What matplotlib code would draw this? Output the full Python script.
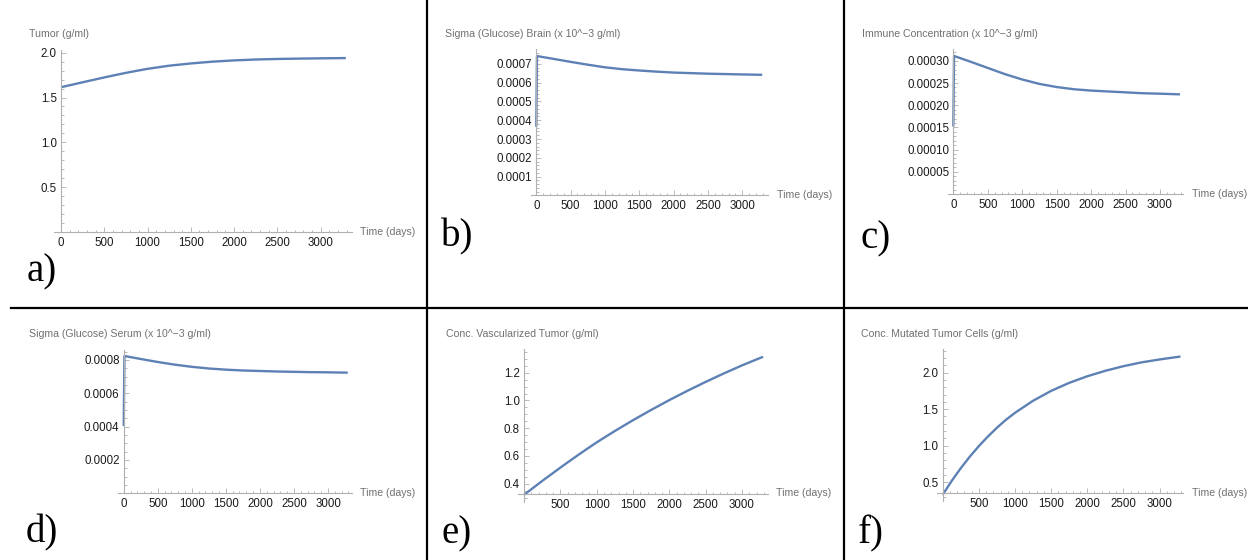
import matplotlib
matplotlib.use("Agg")
import matplotlib.pyplot as plt
from matplotlib.lines import Line2D
from matplotlib.ticker import MultipleLocator, FormatStrFormatter, FixedLocator

W, H = 1248, 560

# tiempos (dias)
t_suave = [0, 125, 250, 375, 500, 625, 750, 875, 1000, 1250, 1500, 1750, 2000, 2250, 2500, 2750, 3000, 3290]
t_salto = [0, 10, 250, 500, 750, 1000, 1250, 1500, 1750, 2000, 2250, 2500, 2750, 3000, 3290]

tumor = [1.615, 1.642, 1.67, 1.697, 1.724, 1.75, 1.775, 1.798, 1.82, 1.855, 1.88, 1.90, 1.914,
         1.924, 1.93, 1.934, 1.937, 1.94]
glucosa_cerebro = [0.000366, 0.000742, 0.000727, 0.000711, 0.000696, 0.000682, 0.000672,
                   0.000665, 0.000659, 0.000654, 0.000651, 0.000648, 0.000646, 0.000644, 0.000642]
inmune = [0.000152, 0.000311, 0.000298, 0.000284, 0.000270, 0.000258, 0.000248,
          0.000241, 0.000236, 0.000233, 0.000231, 0.000229, 0.000227, 0.000226, 0.0002245]
glucosa_suero = [0.000404, 0.000824, 0.000806, 0.000788, 0.000772, 0.000759, 0.000749,
                 0.000742, 0.000737, 0.000734, 0.000731, 0.000729, 0.000727, 0.000726, 0.000724]
vascularizado = [0.32, 0.37, 0.42, 0.468, 0.516, 0.563, 0.609, 0.654, 0.698, 0.78, 0.858, 0.932,
                 1.003, 1.07, 1.134, 1.195, 1.253, 1.315]
mutadas = [0.33, 0.52, 0.693, 0.851, 0.995, 1.126, 1.246, 1.355, 1.45, 1.615, 1.75, 1.86, 1.95,
           2.025, 2.088, 2.14, 2.18, 2.22]

xticks_con0 = [0, 500, 1000, 1500, 2000, 2500, 3000]
xticks_sin0 = [500, 1000, 1500, 2000, 2500, 3000]

azul = "#5E81B5"
gris_eje = "#b0b0b0"
gris_txt = "#707070"

plt.rcParams['font.family'] = ['Liberation Sans', 'DejaVu Sans']

fig = plt.figure(figsize=(W / 100, H / 100), dpi=100)


def panel(caja, x, y, xlim, ylim, cruce, xt, yt, ymenor, fmt, titulo, pos_tit, pos_time, letra, pos_letra):
    l, r, t, b = caja
    ax = fig.add_axes([l / W, 1 - b / H, (r - l) / W, (b - t) / H])
    ax.plot(x, y, color=azul, lw=1.7, solid_joinstyle='round', solid_capstyle='butt')
    ax.set_xlim(*xlim)
    ax.set_ylim(*ylim)
    for s in ['top', 'right']:
        ax.spines[s].set_visible(False)
    ax.spines['left'].set_position(('data', 0))
    ax.spines['bottom'].set_position(('data', cruce))
    for s in ['left', 'bottom']:
        ax.spines[s].set_color(gris_eje)
        ax.spines[s].set_linewidth(0.8)
    ax.xaxis.set_major_locator(FixedLocator(xt))
    ax.xaxis.set_minor_locator(MultipleLocator(100))
    ax.yaxis.set_major_locator(FixedLocator(yt))
    ax.yaxis.set_minor_locator(MultipleLocator(ymenor))
    ax.yaxis.set_major_formatter(FormatStrFormatter(fmt))
    ax.tick_params(which='both', direction='in', color=gris_eje, width=0.6,
                   labelsize=8.3, labelcolor='#1a1a1a')
    ax.tick_params(which='major', length=3.5)
    ax.tick_params(which='minor', length=1.8)
    ax.tick_params(axis='x', pad=3.5)
    ax.tick_params(axis='y', pad=3)
    ax.patch.set_alpha(0)
    fig.text(pos_tit[0] / W, 1 - pos_tit[1] / H, titulo, fontsize=7.6, color=gris_txt, va='center', ha='left')
    fig.text(pos_time[0] / W, 1 - pos_time[1] / H, "Time (days)", fontsize=7.6, color=gris_txt, va='center', ha='left')
    fig.text(pos_letra[0] / W, 1 - pos_letra[1] / H, letra, fontsize=28, family='Liberation Serif',
             va='baseline', ha='left')
    return ax


panel((54.3, 351.7, 50, 232), t_suave, tumor, (-77, 3358), (0, 2.03), 0,
      xticks_con0, [0.5, 1.0, 1.5, 2.0], 0.1, '%.1f',
      "Tumor (g/ml)", (29, 34), (360, 232.3), "a)", (26.5, 281))

panel((531, 767.7, 49.3, 195.3), t_salto, glucosa_cerebro, (-77, 3370), (0, 0.000778), 0,
      xticks_con0, [0.0001, 0.0002, 0.0003, 0.0004, 0.0005, 0.0006, 0.0007], 0.00002, '%.4f',
      "Sigma (Glucose) Brain (x 10^\u22123 g/ml)", (445, 34), (776.7, 195.3), "b)", (440.7, 246.5))

panel((948.3, 1183, 49.3, 194), t_salto, inmune, (-73, 3334), (0, 0.000326), 0,
      xticks_con0, [0.00005, 0.00010, 0.00015, 0.00020, 0.00025, 0.00030], 0.00001, '%.5f',
      "Immune Concentration (x 10^\u22123 g/ml)", (861.7, 34), (1192, 194), "c)", (860, 248))

panel((118.3, 351.7, 350, 493.3), t_salto, glucosa_suero, (-80, 3348), (0, 0.00086), 0,
      xticks_con0, [0.0002, 0.0004, 0.0006, 0.0008], 0.00005, '%.4f',
      "Sigma (Glucose) Serum (x 10^\u22123 g/ml)", (29.3, 334.3), (360, 493.3), "d)", (26, 542))

panel((518.3, 767.7, 349.3, 501.7), t_suave, vascularizado, (-80, 3354), (0.270, 1.369), 0.3236,
      xticks_sin0, [0.4, 0.6, 0.8, 1.0, 1.2], 0.05, '%.1f',
      "Conc. Vascularized Tumor (g/ml)", (445.7, 334.3), (776, 493.3), "e)", (441.7, 543))

panel((937.3, 1183.3, 349.3, 500.7), t_suave, mutadas, (-75, 3329), (0.248, 2.319), 0.3496,
      xticks_sin0, [0.5, 1.0, 1.5, 2.0], 0.1, '%.1f',
      "Conc. Mutated Tumor Cells (g/ml)", (861.3, 334.3), (1192, 493.3), "f)", (857.3, 543))

# lineas divisorias
fig.add_artist(Line2D([11 / W, 1], [1 - 308 / H, 1 - 308 / H], color='black', lw=1.6))
fig.add_artist(Line2D([427 / W, 427 / W], [0, 1], color='black', lw=1.6))
fig.add_artist(Line2D([844 / W, 844 / W], [0, 1], color='black', lw=1.6))

fig.savefig("out.png", dpi=100)
